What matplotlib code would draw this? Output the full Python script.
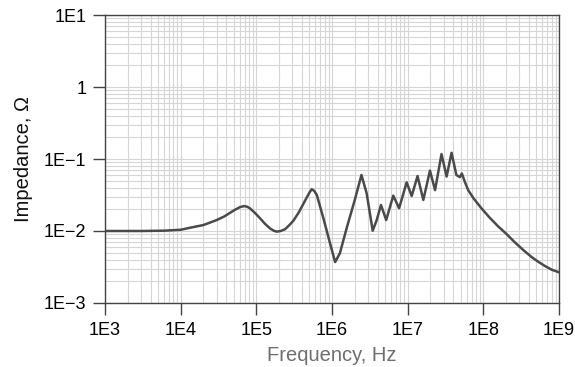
import matplotlib
matplotlib.use("Agg")
import matplotlib.pyplot as plt
from matplotlib.ticker import LogLocator, FixedLocator, NullFormatter

plt.rcParams['font.family'] = ['Liberation Sans', 'DejaVu Sans']

# impedance curve (Hz, ohm)
freq = [1e3, 3e3, 6e3, 1e4, 1.33e4, 2.0e4, 3.0e4, 3.8e4, 4.5e4, 5.3e4, 6.1e4,
        6.9e4, 7.6e4, 8.2e4, 9.5e4, 1.12e5, 1.3e5, 1.51e5, 1.7e5, 1.86e5,
        2.1e5, 2.4e5, 2.8e5, 3.1e5, 3.6e5, 4.2e5, 4.7e5, 5.1e5, 5.4e5, 5.8e5,
        6.3e5, 7.7e5, 9.4e5, 1.10e6, 1.27e6, 1.56e6, 2.0e6, 2.45e6, 2.87e6,
        3.45e6, 3.9e6, 4.44e6, 5.2e6, 6.45e6, 7.7e6, 9.7e6, 1.13e7, 1.35e7,
        1.61e7, 1.97e7, 2.3e7, 2.8e7, 3.27e7, 3.8e7, 4.4e7, 4.9e7, 5.2e7,
        5.7e7, 6.3e7, 7.5e7, 9.5e7, 1.2e8, 1.58e8, 2.0e8, 2.63e8, 3.4e8,
        4.4e8, 5.4e8, 6.5e8, 8.0e8, 1e9]
imped = [0.0100, 0.0100, 0.0101, 0.0104, 0.0111, 0.0121, 0.0142, 0.0160, 0.0179,
         0.0199, 0.0215, 0.0222, 0.0217, 0.0207, 0.0180, 0.0150, 0.0126, 0.0109,
         0.0101, 0.0098, 0.0100, 0.0106, 0.0124, 0.0140, 0.0178, 0.0240, 0.0300,
         0.0350, 0.0380, 0.0362, 0.0316, 0.0150, 0.0068, 0.0037, 0.0049, 0.0109,
         0.0270, 0.0600, 0.0334, 0.0101, 0.0142, 0.0230, 0.0142, 0.0310, 0.0207,
         0.0474, 0.0306, 0.0580, 0.0270, 0.0690, 0.0370, 0.1170, 0.0570, 0.1220,
         0.0600, 0.0560, 0.0630, 0.0480, 0.0370, 0.0280, 0.0205, 0.0155, 0.0115,
         0.0092, 0.0069, 0.0054, 0.0043, 0.0037, 0.00327, 0.0029, 0.00267]

xticks = [1e3, 1e4, 1e5, 1e6, 1e7, 1e8, 1e9]
xlabels = ['1E3', '1E4', '1E5', '1E6', '1E7', '1E8', '1E9']
yticks = [1e-3, 1e-2, 1e-1, 1, 1e1]
ylabels = ['1E\u22123', '1E\u22122', '1E\u22121', '1', '1E1']

fig = plt.figure(figsize=(5.75, 3.67), dpi=100)
ax = fig.add_axes([0.1826, 0.1744, 0.7896, 0.7847])

ax.plot(freq, imped, color='#4a4a4a', lw=1.8, solid_joinstyle='round')
ax.set_xscale('log')
ax.set_yscale('log')
ax.set_xlim(1e3, 1e9)
ax.set_ylim(1e-3, 1e1)

ax.xaxis.set_major_locator(FixedLocator(xticks))
ax.yaxis.set_major_locator(FixedLocator(yticks))
ax.set_xticklabels(xlabels)
ax.set_yticklabels(ylabels)
ax.xaxis.set_minor_locator(LogLocator(base=10, subs=range(2, 10), numticks=20))
ax.yaxis.set_minor_locator(LogLocator(base=10, subs=range(2, 10), numticks=20))
ax.xaxis.set_minor_formatter(NullFormatter())
ax.yaxis.set_minor_formatter(NullFormatter())

ax.grid(True, which='both', color='#d6d6d6', lw=0.8)
ax.set_axisbelow(True)
ax.tick_params(which='major', direction='out', length=8.5, width=1,
               color='#444444', labelsize=13, pad=5)
ax.tick_params(which='minor', length=0)
for s in ax.spines.values():
    s.set_color('#444444')
    s.set_linewidth(1)

ax.set_xlabel('Frequency, Hz', fontsize=14.5, color='#6e6e6e', labelpad=5)
ax.set_ylabel('Impedance, \u03a9', fontsize=14.5, color='#111111', labelpad=8)

fig.savefig('out.png', dpi=100)
